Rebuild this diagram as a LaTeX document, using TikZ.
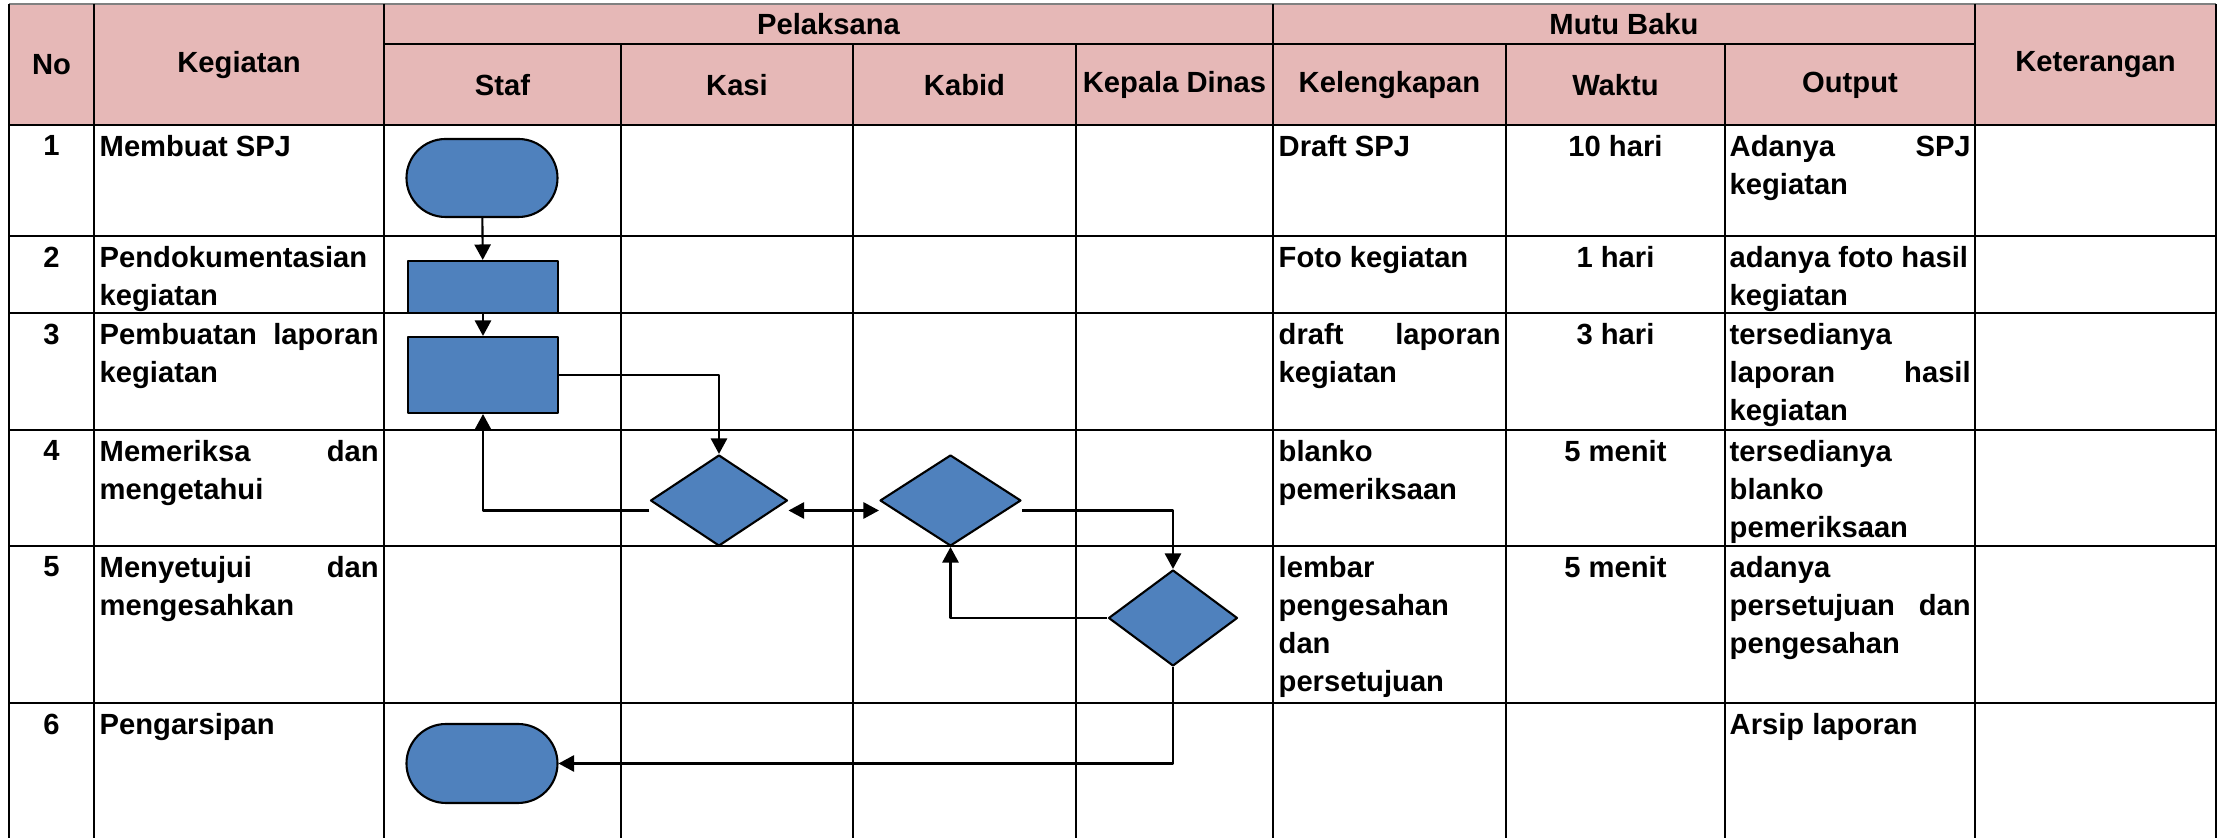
\documentclass[tikz,border=0pt]{standalone}
\usepackage{fontspec}
\setmainfont{Liberation Sans}
\usetikzlibrary{arrows.meta,shapes.geometric,shapes.misc,calc}
\definecolor{pinkhead}{RGB}{230,184,183}
\definecolor{bluebox}{RGB}{79,129,189}
\begin{document}
\begin{tikzpicture}[font=\fontsize{8.3}{10.8}\selectfont\bfseries, line join=round,
  >={Triangle[length=4.4pt,width=4.6pt]},
  garis/.style={line width=0.8pt},
  isi/.style={anchor=north west, inner sep=0pt, text width=#1, align=justify},
  tengah/.style={anchor=north, inner sep=0pt},
  judul/.style={inner sep=0pt},
  proses/.style={draw, fill=bluebox, line width=0.6pt, rectangle, minimum width=1.5cm, inner sep=0pt},
  mulai/.style={draw, fill=bluebox, line width=0.6pt, rounded rectangle, minimum width=1.51cm, minimum height=0.78cm, inner sep=0pt},
  putusan/.style={draw, fill=bluebox, line width=0.6pt, diamond, inner sep=0pt},
  alur/.style={->, line width=0.6pt}]
	\useasboundingbox (0,0) rectangle (22.24,-8.38);
	% kepala tabel
	\fill[pinkhead] (0.09,-0.04) rectangle (22.16,-1.25);
	\draw[gray, line width=0.6pt] (0.09,-0.04) -- (22.16,-0.04);
	\foreach \x in {0.09,0.94,3.84,12.73,19.75,22.16} \draw[garis] (\x,-0.04) -- (\x,-8.38);
	\foreach \x in {6.21,8.53,10.76,15.06,17.25} \draw[garis] (\x,-0.44) -- (\x,-8.38);
	\draw[garis] (3.84,-0.44) -- (19.75,-0.44);
	\foreach \y in {1.25,2.36,3.13,4.30,5.46,7.03} \draw[garis] (0.09,-\y) -- (22.16,-\y);
	\node[judul] (hno) at (0.515,-0.65) {No};
	\node[judul] (hkeg) at (2.39,-0.65) {Kegiatan};
	\node[judul] (hpel) at (8.285,-0.24) {Pelaksana};
	\node[judul] (hmutu) at (16.24,-0.24) {Mutu Baku};
	\node[judul] (hket) at (20.955,-0.65) {Keterangan};
	\node[judul] (hstaf) at (5.025,-0.85) {Staf};
	\node[judul] (hkasi) at (7.37,-0.85) {Kasi};
	\node[judul] (hkabid) at (9.645,-0.85) {Kabid};
	\node[judul] (hkadis) at (11.745,-0.85) {Kepala Dinas};
	\node[judul] (hkel) at (13.895,-0.85) {Kelengkapan};
	\node[judul] (hwkt) at (16.155,-0.85) {Waktu};
	\node[judul] (hout) at (18.5,-0.85) {Output};
	% baris 1
	\node[tengah] (no1) at (0.515,-1.35) {1};
	\node[isi=2.79cm] (keg1) at (0.99,-1.35) {Membuat SPJ};
	\node[isi=2.22cm] (kel1) at (12.78,-1.35) {Draft SPJ};
	\node[tengah] (wkt1) at (16.155,-1.35) {10 hari};
	\node[isi=2.41cm] (out1) at (17.29,-1.35) {Adanya \hfill SPJ\\kegiatan};
	% baris 2
	\node[tengah] (no2) at (0.515,-2.46) {2};
	\node[isi=2.79cm] (keg2) at (0.99,-2.46) {Pendokumentasian\\kegiatan};
	\node[isi=2.22cm] (kel2) at (12.78,-2.46) {Foto kegiatan};
	\node[tengah] (wkt2) at (16.155,-2.46) {1 hari};
	\node[isi=2.41cm] (out2) at (17.29,-2.46) {adanya foto hasil\\kegiatan};
	% baris 3
	\node[tengah] (no3) at (0.515,-3.23) {3};
	\node[isi=2.79cm] (keg3) at (0.99,-3.23) {Pembuatan \hfill laporan\\kegiatan};
	\node[isi=2.22cm] (kel3) at (12.78,-3.23) {draft \hfill laporan\\kegiatan};
	\node[tengah] (wkt3) at (16.155,-3.23) {3 hari};
	\node[isi=2.41cm] (out3) at (17.29,-3.23) {tersedianya\\laporan \hfill hasil\\kegiatan};
	% baris 4
	\node[tengah] (no4) at (0.515,-4.40) {4};
	\node[isi=2.79cm] (keg4) at (0.99,-4.40) {Memeriksa \hfill dan\\mengetahui};
	\node[isi=2.22cm] (kel4) at (12.78,-4.40) {blanko\\pemeriksaan};
	\node[tengah] (wkt4) at (16.155,-4.40) {5 menit};
	\node[isi=2.41cm] (out4) at (17.29,-4.40) {tersedianya\\blanko\\pemeriksaan};
	% baris 5
	\node[tengah] (no5) at (0.515,-5.56) {5};
	\node[isi=2.79cm] (keg5) at (0.99,-5.56) {Menyetujui \hfill dan\\mengesahkan};
	\node[isi=2.22cm] (kel5) at (12.78,-5.56) {lembar\\pengesahan\\dan\\persetujuan};
	\node[tengah] (wkt5) at (16.155,-5.56) {5 menit};
	\node[isi=2.41cm] (out5) at (17.29,-5.56) {adanya\\persetujuan \hfill dan\\pengesahan};
	% baris 6
	\node[tengah] (no6) at (0.515,-7.13) {6};
	\node[isi=2.79cm] (keg6) at (0.99,-7.13) {Pengarsipan};
	\node[isi=2.41cm] (out6) at (17.29,-7.13) {Arsip laporan};
	% bagan alir
	\node[mulai] (t1) at (4.82,-1.78) {};
	\node[proses, minimum height=0.52cm] (r2) at (4.83,-2.87) {};
	\node[proses, minimum height=0.76cm] (r3) at (4.83,-3.75) {};
	\node[putusan, minimum width=1.37cm, minimum height=0.91cm] (d4a) at (7.19,-5.005) {};
	\node[putusan, minimum width=1.41cm, minimum height=0.91cm] (d4b) at (9.505,-5.005) {};
	\node[putusan, minimum width=1.29cm, minimum height=0.96cm] (d5) at (11.73,-6.18) {};
	\node[mulai, minimum height=0.79cm] (t6) at (4.82,-7.635) {};
	\draw[alur] (t1) -- (r2);
	\draw[alur] (r2) -- (r3);
	\draw[alur] (r3.east) -| (d4a.north);
	\draw[alur] ($(d4a.west)+(0,-0.1)$) -| (r3.south);
	\draw[alur,<->] ($(d4a.east)+(0,-0.1)$) -- ($(d4b.west)+(0,-0.1)$);
	\draw[alur] ($(d4b.east)+(0,-0.1)$) -| (d5.north);
	\draw[alur] (d5.west) -| (d4b.south);
	\draw[alur] (d5.south) |- (t6.east);
\end{tikzpicture}
\end{document}
